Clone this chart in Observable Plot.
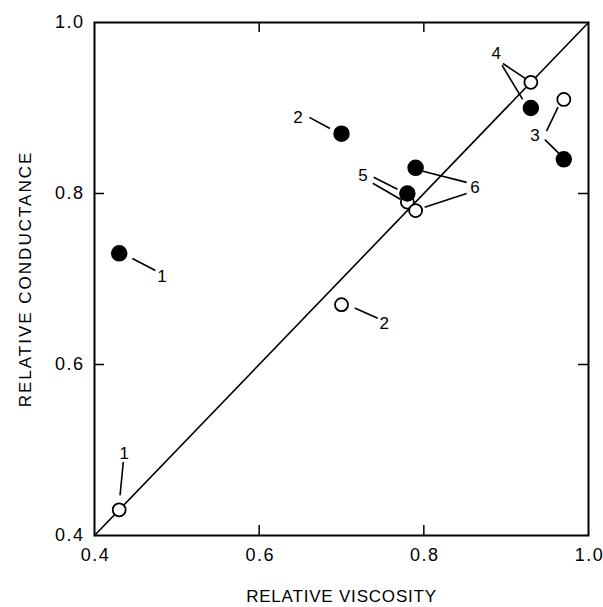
<!DOCTYPE html>
<html><head><meta charset="utf-8">
<script src="https://cdn.jsdelivr.net/npm/d3@7"></script>
<script src="https://cdn.jsdelivr.net/npm/@observablehq/plot@0.6"></script>
<style>
body{margin:0;background:#fff}
</style>
</head><body><div id="chart"></div>
<script>
// data
const ids = ["1","2","3","4","5","6"];
const filledX = [0.43, 0.70, 0.97, 0.93, 0.78, 0.79];
const filledY = [0.73, 0.87, 0.84, 0.90, 0.80, 0.83];
const openX   = [0.43, 0.70, 0.97, 0.93, 0.78, 0.79];
const openY   = [0.43, 0.67, 0.91, 0.93, 0.79, 0.78];
const xTicks = [0.4, 0.6, 0.8, 1.0];
const yTicks = [0.4, 0.6, 0.8, 1.0];

// annotation labels (data coordinates) and leader lines
const labelText = ["1","2","1","2","3","4","5","6"];
const labelX = [0.482, 0.647, 0.436, 0.752, 0.935, 0.888, 0.726, 0.862];
const labelY = [0.703, 0.889, 0.496, 0.648, 0.868, 0.964, 0.821, 0.807];
const leadX1 = [0.446, 0.661, 0.435, 0.716, 0.949, 0.947, 0.896, 0.895, 0.739, 0.738, 0.799, 0.801];
const leadY1 = [0.724, 0.889, 0.486, 0.666, 0.873, 0.863, 0.952, 0.950, 0.819, 0.812, 0.826, 0.784];
const leadX2 = [0.474, 0.686, 0.431, 0.744, 0.963, 0.965, 0.924, 0.920, 0.768, 0.772, 0.852, 0.852];
const leadY2 = [0.710, 0.876, 0.447, 0.654, 0.901, 0.846, 0.934, 0.910, 0.805, 0.793, 0.813, 0.800];

const filled = ids.map((id,i)=>({id, x: filledX[i], y: filledY[i]}));
const open = ids.map((id,i)=>({id, x: openX[i], y: openY[i]}));
const labels = labelText.map((t,i)=>({t, x: labelX[i], y: labelY[i]}));
const leaders = leadX1.map((_,i)=>({x1: leadX1[i], y1: leadY1[i], x2: leadX2[i], y2: leadY2[i]}));

const W = 603, H = 607, mL = 94, mR = 15, mT = 22, mB = 72;
const innerH = H - mT - mB, innerW = W - mL - mR;
const tickLen = 10;
const inner = [0.6, 0.8];
const dom = [0.4, 1.0];

const chart = Plot.plot({
  width: W, height: H,
  marginLeft: mL, marginRight: mR, marginTop: mT, marginBottom: mB,
  style: {fontFamily: "'Liberation Sans', Arial, sans-serif", fontSize: "18px", color: "black", background: "white"},
  x: {domain: dom},
  y: {domain: dom},
  marks: [
    Plot.axisX({ticks: xTicks, tickSize: 0, tickPadding: 13, tickFormat: d3.format(".1f"), fontSize: 18,
      label: null, dx: 1}),
    Plot.axisX({ticks: [], tickSize: 0, fontSize: 17, dx: -5,
      label: "RELATIVE VISCOSITY", labelAnchor: "center", labelArrow: "none", labelOffset: 66}),
    Plot.axisY({ticks: yTicks, tickSize: 0, tickPadding: 10, tickFormat: d3.format(".1f"), fontSize: 18,
      label: null}),
    Plot.axisY({ticks: [], tickSize: 0, fontSize: 17,
      label: "RELATIVE CONDUCTANCE", labelAnchor: "center", labelArrow: "none", labelOffset: 76}),
    Plot.tickX(inner, {x: d => d, insetTop: innerH - tickLen, stroke: "black", strokeWidth: 1.5}),
    Plot.tickX(inner, {x: d => d, insetBottom: innerH - tickLen, stroke: "black", strokeWidth: 1.5}),
    Plot.tickY(inner, {y: d => d, insetRight: innerW - tickLen, stroke: "black", strokeWidth: 1.5}),
    Plot.tickY(inner, {y: d => d, insetLeft: innerW - tickLen, stroke: "black", strokeWidth: 1.5}),
    Plot.frame({stroke: "black", strokeWidth: 2}),
    Plot.line(dom.map(v => ({v})), {x: "v", y: "v", stroke: "black", strokeWidth: 1.6}),
    Plot.link(leaders, {x1: "x1", y1: "y1", x2: "x2", y2: "y2", stroke: "black", strokeWidth: 1.6}),
    Plot.dot(open, {x: "x", y: "y", r: 6.5, fill: "white", stroke: "black", strokeWidth: 1.8}),
    Plot.dot(filled, {x: "x", y: "y", r: 7.5, fill: "black", stroke: "black"}),
    Plot.text(labels, {x: "x", y: "y", text: "t", fill: "black", fontSize: 17})
  ]
});
const sel = d3.select(chart);
sel.selectAll('g[aria-label$="tick label"]').style("letter-spacing", "1.5px");
sel.selectAll('g[aria-label="x-axis label"]').style("letter-spacing", "0.8px");
sel.selectAll('g[aria-label="y-axis label"]').style("letter-spacing", "2px");
document.getElementById("chart").appendChild(chart);
</script>
</body></html>
